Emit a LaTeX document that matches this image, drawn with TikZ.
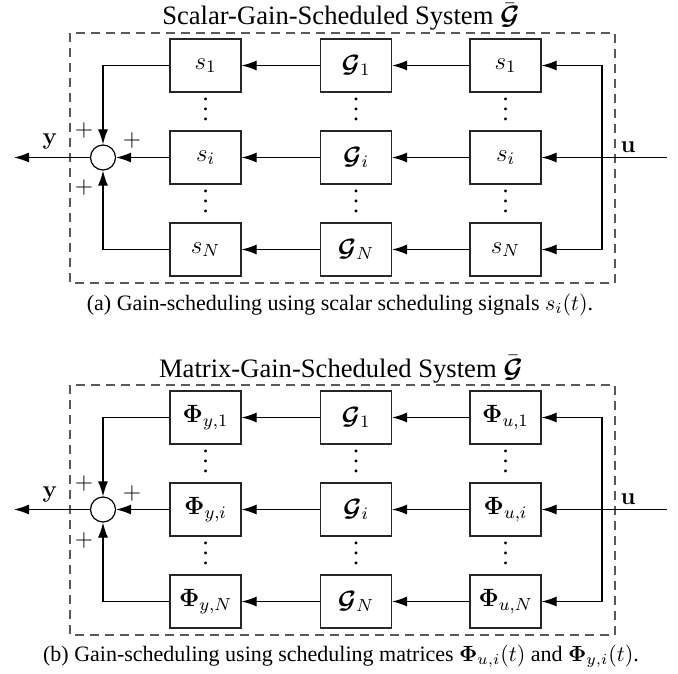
\documentclass[tikz,border=0pt]{standalone}
\usepackage{fix-cm}
\usepackage{amsmath}
\usepackage[no-math]{fontspec}
\setmainfont{Liberation Serif}
\usetikzlibrary{arrows.meta}

% block labels
\newcommand\scal[1]{s_{#1}}
\newcommand\phiy[1]{\mathbf{\Phi}_{y,#1}}
\newcommand\phiu[1]{\mathbf{\Phi}_{u,#1}}
\newcommand\colvdots{\vbox{\baselineskip=5pt\lineskiplimit=0pt\hbox{.}\hbox{.}\hbox{.}}}

\begin{document}
\begin{tikzpicture}[x=0.5pt,y=-0.5pt,
  blk/.style={draw=black!85, line width=0.6pt, minimum width=35.5pt,
    minimum height=26.5pt, inner sep=0pt, font=\fontsize{12.5}{14}\selectfont},
  wire/.style={line width=0.6pt},
  sig/.style={wire, -{Latex[length=7.5pt,width=5pt]}},
  frame/.style={draw=black!65, dash pattern=on 4.5pt off 3pt, line width=0.6pt},
  sumnode/.style={circle, draw, line width=0.6pt, minimum size=12.5pt, inner sep=0pt},
  lbl/.style={inner sep=0pt, font=\fontsize{12}{14}\selectfont},
  dotcol/.style={inner sep=0pt, font=\fontsize{12}{14}\selectfont},
  ttlfont/.style={font=\fontsize{13.3}{15}\selectfont},
  capfont/.style={font=\fontsize{11}{13}\selectfont},
]
\useasboundingbox (0,0) rectangle (678,673);

\foreach \p/\off/\lft/\rgt/\ttl in {a/0/\scal/\scal/Scalar, b/352/\phiy/\phiu/Matrix} {
  \node[ttlfont, anchor=base] (\p title) at (341,\off+25)
    {\ttl-Gain-Scheduled System $\bar{\boldsymbol{\mathcal{G}}}$};
  \draw[frame] (70,\off+33) rectangle (615,\off+283);

  \foreach \r/\yy in {1/65.5, i/157.5, N/249.5} {
    \node[blk] (\p L\r) at (205.5,\off+\yy) {$\lft{\r}$};
    \node[blk] (\p M\r) at (356,\off+\yy) {$\boldsymbol{\mathcal{G}}_{\r}$};
    \node[blk] (\p R\r) at (505.5,\off+\yy) {$\rgt{\r}$};
    \draw[sig] (\p R\r) -- (\p M\r);
    \draw[sig] (\p M\r) -- (\p L\r);
  }

  % vertical ellipses between the rows
  \foreach \c/\xx in {L/205.5, M/356, R/505.5} {
    \node[dotcol] (\p D\c a) at (\xx,\off+109) {\colvdots};
    \node[dotcol] (\p D\c b) at (\xx,\off+201) {\colvdots};
  }

  % summing junction and output
  \node[sumnode] (\p S) at (103,\off+157.5) {};
  \draw[sig] (\p L1.west) -| (\p S.north);
  \draw[sig] (\p LN.west) -| (\p S.south);
  \draw[sig] (\p Li) -- (\p S);
  \coordinate (\p out) at (14,\off+157.5);
  \draw[sig] (\p S) -- (\p out);
  \node[lbl] (\p y) at (50,\off+142) {$\mathbf{y}$};
  \node[lbl] (\p p1) at (84,\off+131) {$+$};
  \node[lbl] (\p p2) at (132,\off+141) {$+$};
  \node[lbl] (\p p3) at (84,\off+188) {$+$};

  % input and distribution bus
  \coordinate (\p in) at (667,\off+157.5);
  \coordinate (\p bus) at (602,\off+157.5);
  \draw[sig] (\p in) -- (\p Ri);
  \draw[sig] (\p bus) |- (\p R1.east);
  \draw[sig] (\p bus) |- (\p RN.east);
  \node[lbl] (\p u) at (628,\off+147) {$\mathbf{u}$};
}

\node[capfont] (capa) at (340,305)
  {(a) Gain-scheduling using scalar scheduling signals $s_i(t)$.};
\node[capfont] (capb) at (341,656)
  {(b) Gain-scheduling using scheduling matrices $\mathbf{\Phi}_{u,i}(t)$ and $\mathbf{\Phi}_{y,i}(t)$.};
\end{tikzpicture}
\end{document}
